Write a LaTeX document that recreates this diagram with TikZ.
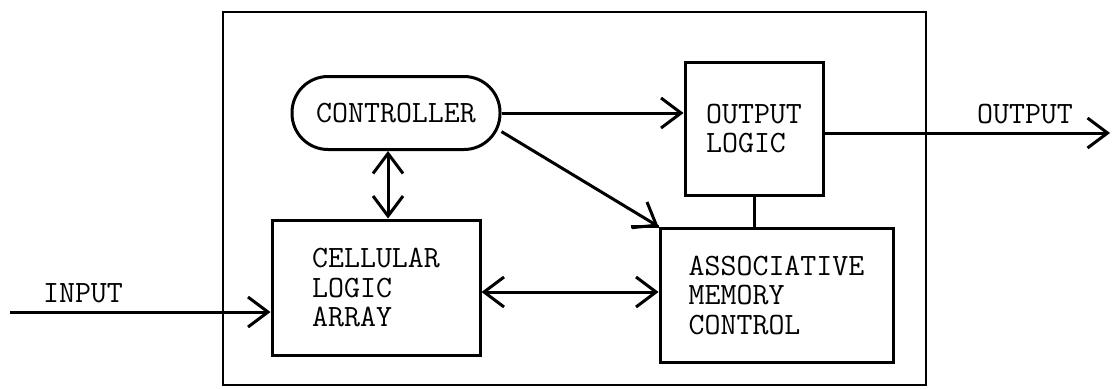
\documentclass[tikz,border=0pt]{standalone}
\usetikzlibrary{arrows.meta,calc}
\begin{document}
\begin{tikzpicture}[x=1pt,y=-1pt,
  every node/.style={font=\ttfamily\fontsize{31}{29.5}\selectfont, inner sep=0pt},
  blk/.style={draw, line width=3pt, align=left},
  conn/.style={line width=3pt},
  >={Straight Barb[length=20pt,width=30pt,line width=3pt]}]
\useasboundingbox (0,0) rectangle (1113,388);
\node[draw, line width=2.8pt, minimum width=703pt, minimum height=373pt] (frame) at (574.5,198.5) {};
\node[blk, rounded corners=36pt, minimum width=208pt, minimum height=73pt] (ctrl) at (396,113) {CONTROLLER};
\node[blk, minimum width=138pt, minimum height=133pt] (out) at (754,128.5) {OUTPUT\\LOGIC};
\node[blk, minimum width=208pt, minimum height=135pt] (cell) at (376,287.5) {CELLULAR\\LOGIC\\ARRAY};
\node[blk, minimum width=233pt, minimum height=134pt] (assoc) at (776.5,295) {ASSOCIATIVE\\MEMORY\\CONTROL};
\coordinate (inp) at (10,312);
\coordinate (outp) at (1110,133);
\coordinate (vtop) at ($(ctrl.south)+(-8,0)$);
\coordinate (vbot) at (vtop |- cell.north);
\coordinate (hl) at ($(cell.east)+(0,4.5)$);
\coordinate (hr) at (hl -| assoc.west);
\node[anchor=base] (inlbl) at (83,302) {INPUT};
\node[anchor=base] (outlbl) at (1025,123) {OUTPUT};
\draw[conn,->] (ctrl.east) -- (ctrl.east -| out.west);
\draw[conn,->] (ctrl.-10) -- (assoc.north west);
\draw[conn] (assoc.north west) -- ++(-28,0);
\draw[conn] (out.south) -- (out.south |- assoc.north);
\draw[conn,<->] (vtop) -- (vbot);
\draw[conn,<->] (hl) -- (hr);
\draw[conn,->] (inp) -- (inp -| cell.west);
\draw[conn,->] (out.east |- outp) -- (outp);
\end{tikzpicture}
\end{document}
